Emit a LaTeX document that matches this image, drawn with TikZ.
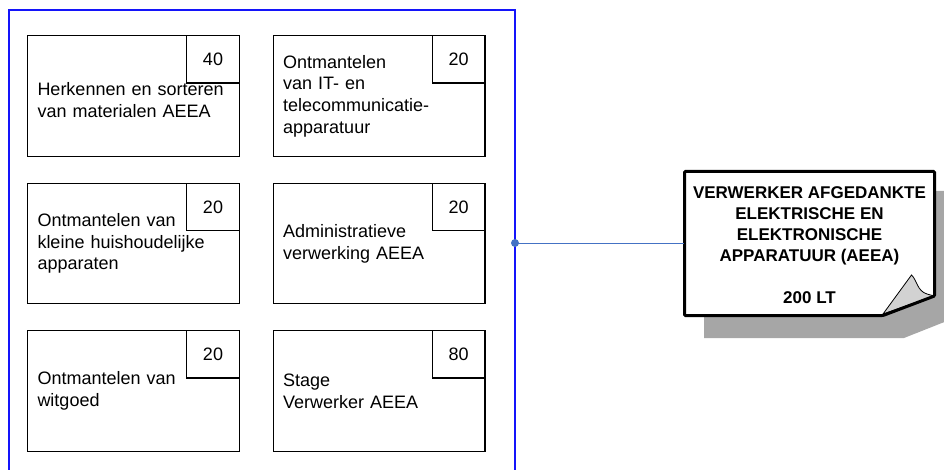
\documentclass[tikz,border=0pt]{standalone}
\usepackage{fontspec}
\setmainfont{Liberation Sans}
\usetikzlibrary{positioning}
\definecolor{linkblue}{RGB}{68,114,196}
\definecolor{frameblue}{RGB}{20,20,250}
\definecolor{shadowgray}{RGB}{166,166,166}
\definecolor{foldgray}{RGB}{210,210,210}

\begin{document}
\begin{tikzpicture}[x=1pt, y=-1pt, node distance=147.5pt and 245.7pt, on grid,
    module/.style={draw, line width=1.2pt, rectangle, minimum height=120.6pt,
        text width=192pt, inner xsep=9.8pt, align=left,
        font=\fontsize{18}{21.7}\selectfont},
    hours/.style={draw, line width=1.2pt, rectangle, anchor=north east,
        minimum width=52.6pt, minimum height=47.3pt, inner sep=0pt,
        font=\fontsize{18}{21.7}\selectfont}]
    \clip (0,0) rectangle (944,470);

    % frame round the modules
    \draw[frameblue, line width=1.3pt] (9,10) rectangle (515,490);

    \node[module] (herkennen) at (133.5,96) {\mbox{}\\Herkennen en sorteren\\van materialen AEEA};
    \node[module] (ontmit) [right=of herkennen] {Ontmantelen\\van IT- en\\telecommunicatie-\\apparatuur};
    \node[module] (kleine) [below=of herkennen] {Ontmantelen van\\kleine huishoudelijke\\apparaten};
    \node[module] (admin) [right=of kleine] {Administratieve\\verwerking AEEA};
    \node[module] (witgoed) [below=of kleine] {Ontmantelen van\\witgoed};
    \node[module] (stage) [right=of witgoed] {Stage\\Verwerker AEEA};

    \node[hours] (herkennenH) at (herkennen.north east) {40};
    \node[hours] (ontmitH) at (ontmit.north east) {20};
    \node[hours] (kleineH) at (kleine.north east) {20};
    \node[hours] (adminH) at (admin.north east) {20};
    \node[hours] (witgoedH) at (witgoed.north east) {20};
    \node[hours] (stageH) at (stage.north east) {80};

    % note with shadow and folded corner
    \fill[shadowgray] (704,191) -- (957,191) -- (957,317) -- (904,338) -- (704,338) -- cycle;
    \fill[white, rounded corners=1pt] (684.5,171.5) -- (934.5,171.5) -- (934.5,296) -- (883,315.5) -- (684.5,315.5) -- cycle;
    \draw[fill=foldgray, line width=0.8pt] (883,314) -- (911.5,275)
        .. controls (917,280) and (917,291) .. (927,294) -- (934,296) -- cycle;
    \draw[line width=3pt, rounded corners=1pt] (684.5,171.5) -- (934.5,171.5) -- (934.5,296) -- (883,315.5) -- (684.5,315.5) -- cycle;
    \node[minimum width=250pt, minimum height=144pt, inner sep=0pt, align=center,
        font=\bfseries\fontsize{17}{21}\selectfont] (note) at (809.5,245)
        {VERWERKER AFGEDANKTE\\ELEKTRISCHE EN\\ELEKTRONISCHE\\APPARATUUR (AEEA)\\[21pt]200 LT};

    \node[circle, fill=linkblue, minimum size=8pt, inner sep=0pt] (dot) at (515,243) {};
    \draw[linkblue, line width=0.8pt] (dot.center) -- (note.west |- dot.center);
\end{tikzpicture}
\end{document}
